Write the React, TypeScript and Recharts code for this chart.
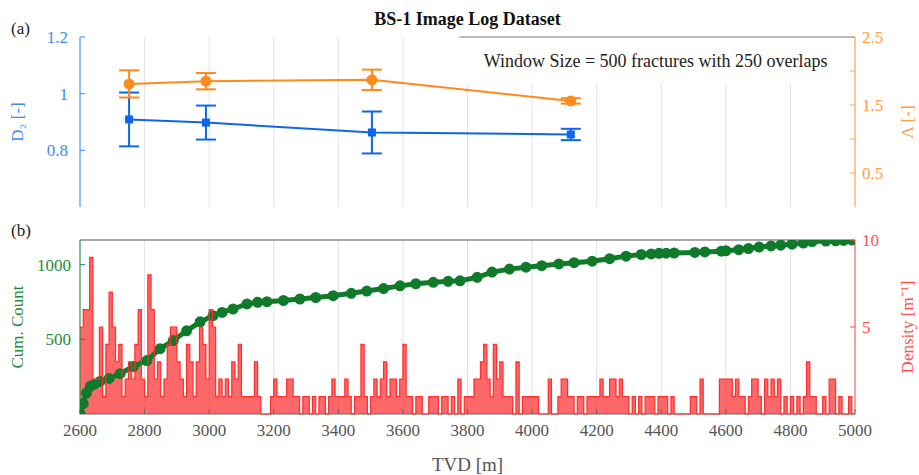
import {
  ComposedChart, Line, Area, XAxis, YAxis, CartesianGrid, ErrorBar, ReferenceLine, ReferenceArea,
} from 'recharts';

// shared depth axis
const xTicks = [2600, 2800, 3000, 3200, 3400, 3600, 3800, 4000, 4200, 4400, 4600, 4800, 5000];

// (a) moving window results
const windowTvd = [2752, 2990, 3504, 4120];
const d2 = [0.909, 0.898, 0.863, 0.856];
const d2Err = [0.095, 0.06, 0.074, 0.02];
const lambda = [1.81, 1.85, 1.87, 1.56];
const lambdaErr = [0.2, 0.12, 0.15, 0.04];

// (b) cumulative fracture count
const cumTvd = [
  2600, 2610, 2620, 2632, 2645, 2662, 2690, 2724, 2765, 2807, 2848, 2889, 2930, 2972, 3012, 3040,
  3074, 3117, 3150, 3179, 3230, 3281, 3330, 3384, 3440, 3488, 3540, 3591, 3640, 3694, 3740, 3777,
  3830, 3876, 3930, 3981, 4030, 4083, 4130, 4186, 4240, 4291, 4338, 4369, 4393, 4415, 4440, 4504,
  4535, 4586, 4600, 4640, 4670, 4703, 4740, 4770, 4805, 4840, 4867, 4910, 4940, 4965, 4991,
];
const cumCount = [
  0, 70, 140, 185, 200, 218, 238, 270, 318, 358, 437, 492, 557, 617, 658, 680,
  703, 737, 748, 752, 760, 770, 780, 792, 808, 823, 840, 858, 872, 882, 888, 892,
  915, 950, 970, 983, 993, 1005, 1013, 1023, 1040, 1057, 1068, 1072, 1076, 1077, 1078, 1082,
  1085, 1090, 1093, 1100, 1108, 1118, 1125, 1130, 1137, 1145, 1155, 1158, 1160, 1162, 1165,
];

// (b) fracture density, 10 m bins from 2600 m
const densityStart = 2600;
const densityStep = 10;
const density = [
  5, 6, 6, 9, 2, 2, 5, 1, 4, 7, 5, 3, 4, 1, 2, 3, 2, 4, 6, 2,
  1, 8, 6, 2, 3, 1, 2, 4, 5, 5, 3, 2, 1, 4, 3, 1, 3, 5, 4, 2,
  6, 5, 1, 2, 1, 2, 1, 3, 2, 4, 1, 1, 1, 1, 3, 1, 0, 0, 0, 1,
  2, 1, 1, 1, 2, 2, 1, 1, 0, 1, 1, 0, 1, 0, 1, 1, 0, 1, 2, 1,
  1, 1, 2, 1, 0, 1, 1, 4, 1, 0, 1, 2, 1, 2, 3, 1, 2, 2, 1, 2,
  4, 1, 1, 0, 1, 1, 0, 0, 1, 1, 1, 0, 1, 1, 0, 1, 0, 2, 0, 1,
  1, 1, 2, 2, 3, 4, 2, 1, 4, 2, 3, 1, 1, 1, 0, 3, 0, 1, 1, 1,
  1, 1, 0, 0, 0, 2, 0, 0, 1, 2, 2, 1, 1, 0, 1, 1, 0, 1, 1, 1,
  1, 2, 1, 1, 2, 2, 1, 2, 1, 1, 0, 1, 0, 1, 0, 1, 1, 1, 0, 1,
  1, 1, 0, 1, 0, 0, 0, 0, 0, 1, 1, 0, 2, 0, 0, 0, 0, 0, 2, 2,
  2, 2, 1, 2, 1, 1, 0, 1, 2, 2, 1, 0, 2, 1, 2, 1, 2, 0, 1, 0,
  1, 0, 1, 0, 1, 3, 1, 1, 0, 0, 1, 0, 2, 2, 0, 1, 0, 0, 1, 0,
];

const SERIF = "'Liberation Serif', 'Times New Roman', serif";
const BLUE = '#0f66e8';
const BLUE_AX = '#3a8cf2';
const ORANGE = '#ff8a1c';
const ORANGE_AX = '#ffa043';
const GREEN = '#0e7a2a';
const GREEN_AX = '#1f8a3d';
const RED = '#ff2e2e';
const RED_AX = '#ff5050';
const GRID = '#e2e2e2';

const windowData = windowTvd.map((tvd, i) => ({
  tvd, d2: d2[i], d2Err: d2Err[i], lambda: lambda[i], lambdaErr: lambdaErr[i],
}));
const cumData = cumTvd.map((tvd, i) => ({ tvd, count: cumCount[i] }));
const densityData = density.map((v, i) => ({ tvd: densityStart + i * densityStep, density: v }));
densityData.push({ tvd: 5000, density: density[density.length - 1] });

const SquareDot = (props: any) => {
  const { cx, cy, index } = props;
  if (cx == null || cy == null) return null;
  return <rect key={`sq-${index}`} x={cx - 4} y={cy - 4} width={8} height={8} fill={BLUE} />;
};

const NoTick = () => <g />;

const tickFont = (fill: string) => ({ fill, fontSize: 17 });
const axisTitle = (value: string, fill: string, position: string, offset: number) => ({
  value, angle: -90, position, offset, fill, fontSize: 17, style: { textAnchor: 'middle' },
});

const panelB = { width: 919, height: 260, margin: { top: 25, right: 0, bottom: 0, left: 0 } };

export default function App() {
  return (
    <div
      style={{
        position: 'absolute', left: 0, top: 0, width: 919, height: 475, background: '#fff',
        fontFamily: SERIF,
      }}
    >
      <style>{`svg text { font-family: 'Liberation Serif', 'Times New Roman', serif !important; }`}</style>
      <div style={{ position: 'absolute', left: 11, top: 19, fontSize: 17, color: '#222' }}>(a)</div>
      <div style={{ position: 'absolute', left: 11, top: 221, fontSize: 17, color: '#222' }}>(b)</div>
      <div
        style={{
          position: 'absolute', left: 80, width: 775, top: 9, textAlign: 'center',
          fontSize: 18, fontWeight: 'bold', color: '#111',
        }}
      >
        BS-1 Image Log Dataset
      </div>

      {/* (a) D2 and lacunarity */}
      <div style={{ position: 'absolute', left: 0, top: 0 }}>
        <ComposedChart width={919} height={215} data={windowData} margin={{ top: 37, right: 0, bottom: 8, left: 0 }}>
          <CartesianGrid horizontal={false} stroke={GRID} yAxisId="d2" />
          <XAxis
            type="number" dataKey="tvd" domain={[2600, 5000]} ticks={xTicks} tick={NoTick}
            tickSize={-5} height={0} stroke="#777" allowDataOverflow
          />
          <YAxis
            yAxisId="d2" domain={[0.6, 1.2]} ticks={[0.8, 1, 1.2]} width={80} stroke={BLUE_AX}
            tickSize={-5} tickMargin={17} tick={tickFont(BLUE_AX)}
            label={axisTitle('D₂ [-]', BLUE_AX, 'insideLeft', 17)}
          />
          <YAxis
            yAxisId="lam" orientation="right" domain={[0, 2.5]} ticks={[0.5, 1, 1.5, 2, 2.5]} width={64}
            stroke={ORANGE_AX} tickSize={-5} tickMargin={12} tick={tickFont(ORANGE_AX)}
            tickFormatter={(v: number) => (Number.isInteger(v) ? '' : String(v))}
            label={axisTitle('Λ [-]', ORANGE_AX, 'insideRight', 12)}
          />
          <ReferenceArea
            yAxisId="lam" x1={3775} x2={4990} y1={1.82} y2={2.5} fill="#fff" fillOpacity={1} stroke="none"
            label={{ value: 'Window Size = 500 fractures with 250 overlaps', position: 'center', fill: '#222', fontSize: 18 }}
          />
          <ReferenceLine yAxisId="lam" segment={[{ x: 3775, y: 2.5 }, { x: 5000, y: 2.5 }]} stroke="#777" />
          <Line
            yAxisId="d2" dataKey="d2" stroke={BLUE} strokeWidth={2} dot={SquareDot} activeDot={false}
            isAnimationActive={false}
          >
            <ErrorBar dataKey="d2Err" direction="y" width={10} strokeWidth={2} stroke={BLUE} />
          </Line>
          <Line
            yAxisId="lam" dataKey="lambda" stroke={ORANGE} strokeWidth={2}
            dot={{ r: 4.5, fill: ORANGE, stroke: ORANGE }} activeDot={false} isAnimationActive={false}
          >
            <ErrorBar dataKey="lambdaErr" direction="y" width={10} strokeWidth={2} stroke={ORANGE} />
          </Line>
        </ComposedChart>
      </div>

      {/* (b) grid, density fill and cumulative count */}
      <div style={{ position: 'absolute', left: 0, top: 215 }}>
        <ComposedChart {...panelB}>
          <CartesianGrid horizontal={false} stroke={GRID} yAxisId="cum" />
          <XAxis
            type="number" dataKey="tvd" domain={[2600, 5000]} ticks={xTicks} tickSize={-5} tickMargin={15}
            height={61} stroke="#666" tick={tickFont('#555')} allowDataOverflow
            label={{ value: 'TVD [m]', position: 'insideBottom', offset: 4, fill: '#555', fontSize: 19 }}
          />
          <YAxis
            yAxisId="cum" domain={[0, 1165]} ticks={[500, 1000]} width={80} stroke={GREEN_AX}
            tickSize={-5} tickMargin={14} tick={tickFont(GREEN_AX)} allowDataOverflow
            label={axisTitle('Cum. Count', GREEN_AX, 'insideLeft', 17)}
          />
          <YAxis
            yAxisId="den" orientation="right" domain={[0, 10]} ticks={[5, 10]} width={64}
            axisLine={false} tickLine={false} tick={NoTick}
          />
          <ReferenceLine yAxisId="cum" y={1165} stroke="#555" />
          <Area
            yAxisId="den" data={densityData} dataKey="density" type="stepAfter" stroke="none"
            fill={RED} fillOpacity={0.72} activeDot={false} isAnimationActive={false}
          />
          <Line
            yAxisId="cum" data={cumData} dataKey="count" stroke={GREEN} strokeWidth={5}
            dot={{ r: 3, fill: GREEN, stroke: GREEN }} activeDot={false} isAnimationActive={false}
          />
        </ComposedChart>
      </div>

      {/* (b) density outline and right axis, overlaid above the cumulative curve */}
      <div style={{ position: 'absolute', left: 0, top: 215 }}>
        <ComposedChart {...panelB}>
          <XAxis
            type="number" dataKey="tvd" domain={[2600, 5000]} ticks={xTicks} height={61}
            axisLine={false} tickLine={false} tick={NoTick} allowDataOverflow
          />
          <YAxis yAxisId="cumHidden" domain={[0, 1165]} width={80} axisLine={false} tickLine={false} tick={NoTick} />
          <YAxis
            yAxisId="den" orientation="right" domain={[0, 10]} ticks={[5, 10]} width={64} stroke={RED_AX}
            tickSize={-5} tickMargin={12} tick={tickFont(RED_AX)}
            label={axisTitle('Density [m⁻¹]', RED_AX, 'insideRight', 12)}
          />
          <Line
            yAxisId="den" data={densityData} dataKey="density" type="stepAfter" stroke={RED}
            strokeWidth={1.2} dot={false} activeDot={false} isAnimationActive={false}
          />
        </ComposedChart>
      </div>
    </div>
  );
}
